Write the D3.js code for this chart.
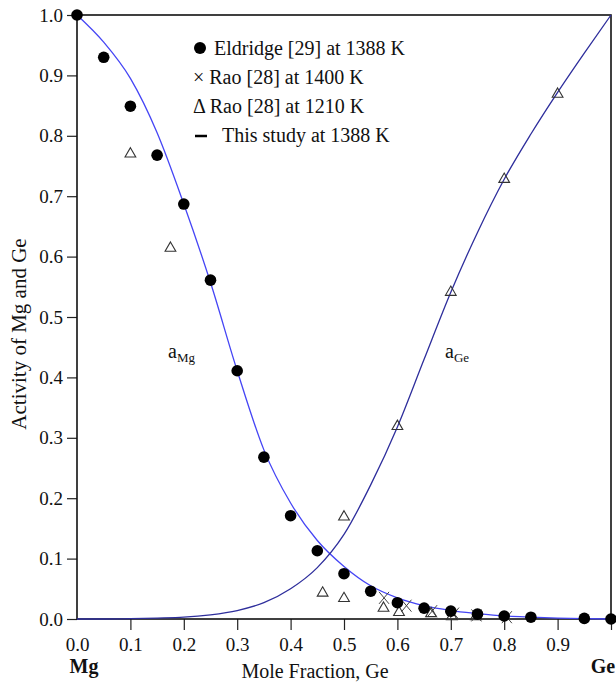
<!DOCTYPE html>
<html><head><meta charset="utf-8">
<script src="https://cdn.jsdelivr.net/npm/d3@7"></script>
<style>
html,body{margin:0;padding:0;background:#fff;}
svg{display:block;}
text{font-family:"Liberation Serif","Times New Roman","DejaVu Serif",serif;fill:#111;}
</style></head>
<body>
<svg id="chart" width="616" height="684"></svg>
<script>
// ---- data ----
const eldridgeX = [0, 0.05, 0.1, 0.15, 0.2, 0.25, 0.3, 0.35, 0.4, 0.45, 0.5, 0.55, 0.6, 0.65, 0.7, 0.75, 0.8, 0.85, 0.95, 1.0];
const eldridgeY = [1.0, 0.930, 0.849, 0.768, 0.687, 0.561, 0.411, 0.268, 0.171, 0.113, 0.075, 0.046, 0.027, 0.018, 0.013, 0.008, 0.005, 0.003, 0.001, 0.0];
const rao1400X = [0.575, 0.617, 0.665, 0.706, 0.748, 0.805];
const rao1400Y = [0.035, 0.022, 0.013, 0.009, 0.006, 0.003];
const rao1210X = [0.1, 0.175, 0.46, 0.5, 0.5, 0.574, 0.6, 0.603, 0.663, 0.702, 0.7, 0.747, 0.8, 0.9];
const rao1210Y = [0.770, 0.614, 0.043, 0.169, 0.034, 0.018, 0.319, 0.011, 0.009, 0.004, 0.541, 0.004, 0.728, 0.869];
const curveX = [0, 0.05, 0.1, 0.15, 0.2, 0.25, 0.3, 0.35, 0.4, 0.45, 0.5, 0.55, 0.6, 0.65, 0.7, 0.75, 0.8, 0.85, 0.9, 0.95, 1.0];
const aMg = [1.0, 0.955, 0.895, 0.805, 0.687, 0.557, 0.411, 0.280, 0.192, 0.130, 0.087, 0.055, 0.035, 0.022, 0.014, 0.009, 0.005, 0.003, 0.0015, 0.0005, 0.0];
const aGe = [0.0, 0.0, 0.0005, 0.0015, 0.003, 0.007, 0.014, 0.027, 0.050, 0.085, 0.140, 0.222, 0.318, 0.430, 0.541, 0.640, 0.728, 0.803, 0.872, 0.937, 1.0];
const yTicks = [0, 0.1, 0.2, 0.3, 0.4, 0.5, 0.6, 0.7, 0.8, 0.9, 1.0];
const xTicks = [0, 0.1, 0.2, 0.3, 0.4, 0.5, 0.6, 0.7, 0.8, 0.9, 1.0];
const legendLabels = ["Eldridge [29] at 1388 K", "\u00D7 Rao [28] at 1400 K", "\u0394 Rao [28] at 1210 K", "This study at 1388 K"];

// ---- layout ----
const L = 77, R = 611, T = 15, B = 619;
const FONT = '"Liberation Serif","Times New Roman","DejaVu Serif",serif';
const svg = d3.select("#chart");
const x = d3.scaleLinear().domain([0, 1]).range([L, R]);
const y = d3.scaleLinear().domain([0, 1]).range([B, T]);

// axes
const yAxis = d3.axisLeft(y).tickValues(yTicks).tickSize(10).tickPadding(4).tickFormat(d3.format(".1f"));
const gy = svg.append("g").attr("transform", `translate(${L},0)`).call(yAxis);
gy.attr("font-family", FONT);
gy.select(".domain").remove();
gy.selectAll(".tick line").attr("stroke", "#222").attr("stroke-width", 1.2);
gy.selectAll("text").attr("font-size", 19).attr("fill", "#111");

const xAxis = d3.axisBottom(x).tickValues(xTicks).tickSize(11).tickPadding(8)
  .tickFormat(d => d === 1 ? "" : d3.format(".1f")(d));
const gx = svg.append("g").attr("transform", `translate(0,${B})`).call(xAxis);
gx.attr("font-family", FONT);
gx.select(".domain").remove();
gx.selectAll(".tick line").attr("stroke", "#222").attr("stroke-width", 1.2)
  .filter(d => d === 0).remove();
gx.selectAll("text").attr("font-size", 19).attr("fill", "#111");

// frame
svg.append("rect").attr("x", L).attr("y", T).attr("width", R - L).attr("height", B - T)
  .attr("fill", "none").attr("stroke", "#111").attr("stroke-width", 1.6);

// curves
const line = d3.line().x(d => x(d[0])).y(d => y(d[1])).curve(d3.curveMonotoneX);
svg.append("path").datum(curveX.map((v, i) => [v, aMg[i]]))
  .attr("d", line).attr("fill", "none").attr("stroke", "#4545f5").attr("stroke-width", 1.3);
svg.append("path").datum(curveX.map((v, i) => [v, aGe[i]]))
  .attr("d", line).attr("fill", "none").attr("stroke", "#2e2e9c").attr("stroke-width", 1.3);

// Rao 1210 triangles
const tri = d3.symbol().type(d3.symbolTriangle).size(50);
svg.append("g").selectAll("path").data(rao1210X.map((v, i) => [v, rao1210Y[i]])).join("path")
  .attr("d", tri).attr("transform", d => `translate(${x(d[0])},${y(d[1])})`)
  .attr("fill", "none").attr("stroke", "#333").attr("stroke-width", 1.1);

// Rao 1400 crosses
svg.append("g").selectAll("path").data(rao1400X.map((v, i) => [v, rao1400Y[i]])).join("path")
  .attr("d", "M-5,-6L5,6M-5,6L5,-6")
  .attr("transform", d => `translate(${x(d[0])},${y(d[1])})`)
  .attr("fill", "none").attr("stroke", "#444").attr("stroke-width", 1);

// Eldridge dots
svg.append("g").selectAll("circle").data(eldridgeX.map((v, i) => [v, eldridgeY[i]])).join("circle")
  .attr("cx", d => x(d[0])).attr("cy", d => y(d[1])).attr("r", 5.8).attr("fill", "#000");

// curve labels
const lab1 = svg.append("text").attr("x", 168).attr("y", 358).attr("font-size", 20);
lab1.append("tspan").text("a");
lab1.append("tspan").attr("font-size", 13).attr("dy", 4).text("Mg");
const lab2 = svg.append("text").attr("x", 445).attr("y", 358).attr("font-size", 20);
lab2.append("tspan").text("a");
lab2.append("tspan").attr("font-size", 13).attr("dy", 4).text("Ge");

// legend
const lg = svg.append("g");
lg.append("circle").attr("cx", 200).attr("cy", 48).attr("r", 6).attr("fill", "#000");
lg.append("text").attr("x", 214).attr("y", 55).attr("font-size", 20).text(legendLabels[0]);
lg.append("text").attr("x", 193).attr("y", 84).attr("font-size", 20).text(legendLabels[1]);
lg.append("text").attr("x", 193).attr("y", 113).attr("font-size", 20).text(legendLabels[2]);
lg.append("line").attr("x1", 195).attr("x2", 207).attr("y1", 136).attr("y2", 136).attr("stroke", "#000").attr("stroke-width", 2.5);
lg.append("text").attr("x", 222).attr("y", 142).attr("font-size", 20).text(legendLabels[3]);

// axis titles
svg.append("text").attr("x", 84).attr("y", 673).attr("text-anchor", "middle").attr("font-size", 20).attr("font-weight", "bold").text("Mg");
svg.append("text").attr("x", 603).attr("y", 673).attr("text-anchor", "middle").attr("font-size", 20).attr("font-weight", "bold").text("Ge");
svg.append("text").attr("x", 315).attr("y", 678).attr("text-anchor", "middle").attr("font-size", 20).text("Mole Fraction, Ge");
svg.append("text").attr("transform", "translate(26,334) rotate(-90)").attr("text-anchor", "middle").attr("font-size", 21).text("Activity of Mg and Ge");
</script>
</body></html>
